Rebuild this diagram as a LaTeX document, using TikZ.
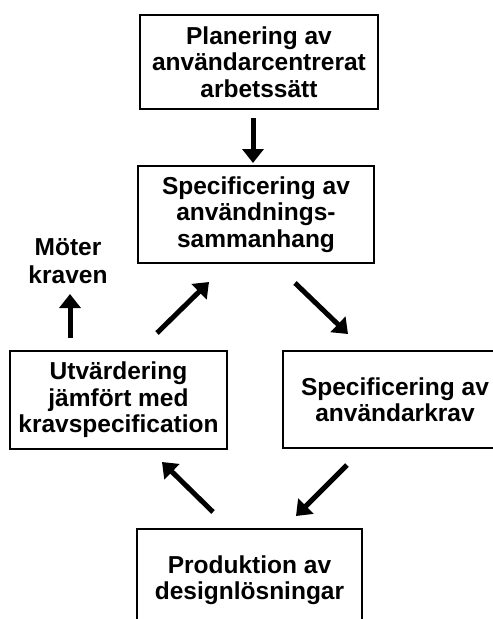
\documentclass[tikz,border=0pt]{standalone}
\usepackage{fontspec}
\setmainfont{Liberation Sans}
\usetikzlibrary{arrows.meta}
\tikzset{
  box/.style={draw=black, line width=1.6pt, fill=white, inner sep=0pt, align=center,
    font=\bfseries\fontsize{24.5}{26.5}\selectfont},
  lbl/.style={inner sep=0pt, align=center, font=\bfseries\fontsize{24.5}{27.5}\selectfont},
  arr/.style={line width=5pt, -{Triangle[width=21pt,length=14pt]}}
}
\begin{document}
\begin{tikzpicture}[x=1pt,y=-1pt]
\useasboundingbox (0,0) rectangle (493,619);
\clip (0,0) rectangle (493,619);
\node[box, minimum width=238pt, minimum height=94pt] (plan) at (259,62)
  {Planering av\\användarcentrerat\\arbetssätt};
\node[box, minimum width=236pt, minimum height=97pt] (kontext) at (256,214.5)
  {Specificering av\\användnings-\\sammanhang};
\node[box, minimum width=217pt, minimum height=98pt] (utv) at (118.5,400)
  {Utvärdering\\jämfört med\\kravspecification};
\node[box, minimum width=224pt, minimum height=97pt] (krav) at (395,399.5)
  {Specificering av\\användarkrav};
\node[box, minimum width=225pt, minimum height=102pt] (prod) at (249.5,580)
  {Produktion av\\designlösningar};
\node[lbl] (moter) at (68,261) {Möter\\kraven};

\coordinate (a1s) at (253,118); \coordinate (a1e) at (253,163);
\coordinate (a2s) at (295,283); \coordinate (a2e) at (348,334);
\coordinate (a3s) at (347,465); \coordinate (a3e) at (296,516);
\coordinate (a4s) at (213,512); \coordinate (a4e) at (162,462);
\coordinate (a5s) at (157,333); \coordinate (a5e) at (209,282);
\coordinate (a6s) at (70,338);  \coordinate (a6e) at (70,294);

\draw[arr] (a1s) -- (a1e);
\draw[arr] (a2s) -- (a2e);
\draw[arr] (a3s) -- (a3e);
\draw[arr] (a4s) -- (a4e);
\draw[arr] (a5s) -- (a5e);
\draw[arr] (a6s) -- (a6e);
\end{tikzpicture}
\end{document}
